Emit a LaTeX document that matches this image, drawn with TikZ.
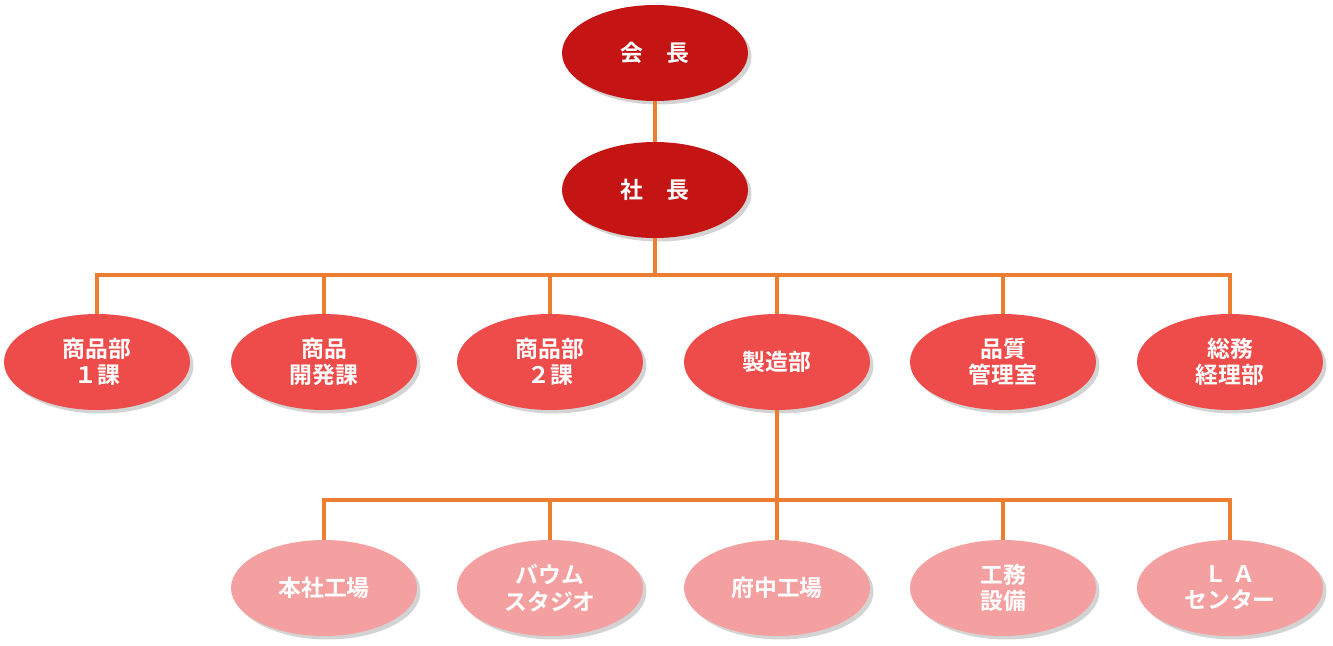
\documentclass[tikz,border=0pt]{standalone}
\usepackage{fontspec}
\newfontfamily\jpfont{Noto Sans CJK JP}[BoldFont={* Bold}]
\usetikzlibrary{shapes.geometric,shadows}
\definecolor{topred}{HTML}{C41414}
\definecolor{midred}{HTML}{EE4B4B}
\definecolor{lowred}{HTML}{F4A0A0}
\definecolor{linkorange}{HTML}{ED7D31}
\tikzset{
	unit/.style={ellipse,minimum width=3.72cm,minimum height=1.92cm,inner sep=0pt,
		align=center,text=white,font=\jpfont\bfseries\fontsize{13}{15}\selectfont,
		drop shadow={shadow xshift=0.07cm,shadow yshift=-0.07cm,opacity=0.35}},
	headunit/.style={unit,fill=topred},
	deptunit/.style={unit,fill=midred},
	siteunit/.style={unit,fill=lowred},
	link/.style={linkorange,line width=2.2pt}
}
\begin{document}
\begin{tikzpicture}[x=0.02cm,y=-0.02cm]
	\useasboundingbox (0,0) rectangle (1333,646);
	% Top
	\node[headunit] (chair) at (655,53) {会　長};
	\node[headunit] (pres) at (655,190) {社　長};
	% Departments
	\node[deptunit] (d1) at (97,362) {商品部\\１課};
	\node[deptunit] (d2) at (324,362) {商品\\開発課};
	\node[deptunit] (d3) at (550,362) {商品部\\２課};
	\node[deptunit] (mfg) at (777,362) {製造部};
	\node[deptunit] (d5) at (1003,362) {品質\\管理室};
	\node[deptunit] (d6) at (1230,362) {総務\\経理部};
	% Sites
	\node[siteunit] (s1) at (324,588) {本社工場};
	\node[siteunit] (s2) at (550,588) {バウム\\スタジオ};
	\node[siteunit] (s3) at (777,588) {府中工場};
	\node[siteunit] (s4) at (1003,588) {工務\\設備};
	\node[siteunit] (s5) at (1230,588) {Ｌ Ａ\\センター};
	% Connectors
	\coordinate (bus1) at (655,275);
	\coordinate (bus2) at (777,500);
	\draw[link] (chair) -- (pres);
	\draw[link] (pres) -- (bus1);
	\foreach \d in {d1,d2,d3,mfg,d5,d6}
		\draw[link] (bus1) -| (\d);
	\draw[link] (mfg) -- (bus2);
	\foreach \s in {s1,s2,s3,s4,s5}
		\draw[link] (bus2) -| (\s);
\end{tikzpicture}
\end{document}
